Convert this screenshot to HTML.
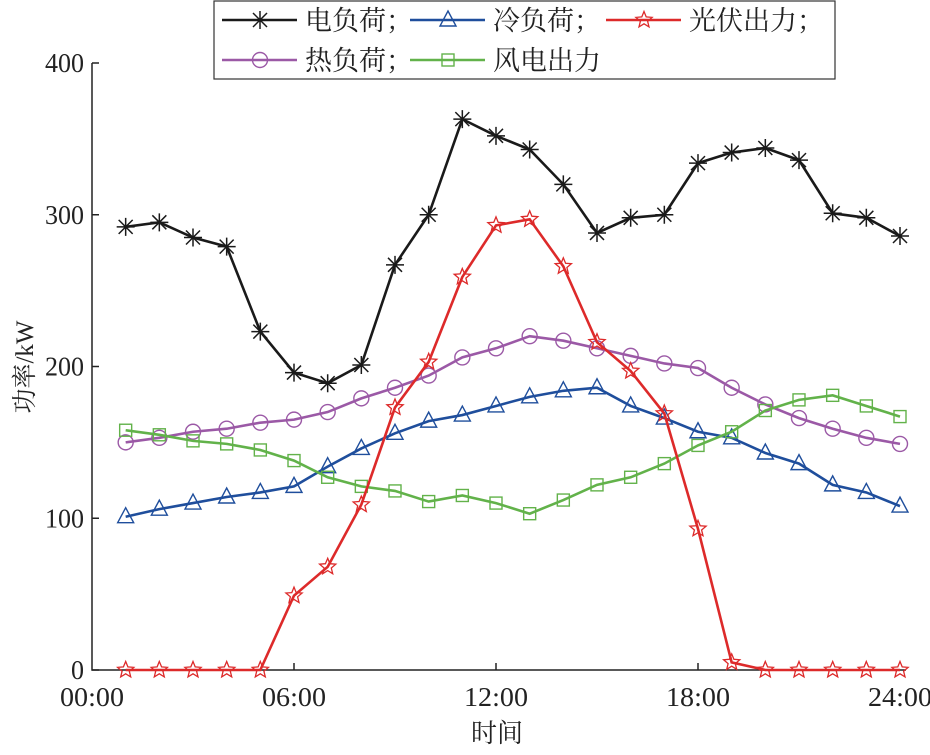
<!DOCTYPE html>
<html><head><meta charset="utf-8"><style>
body{margin:0;background:#fff}
svg text{font-family:"Liberation Serif","Noto Serif CJK SC",serif;fill:#222}
</style></head><body>
<svg width="930" height="750" viewBox="0 0 930 750" xmlns="http://www.w3.org/2000/svg">
<g id="axes"></g><g id="series"></g><g id="legend"></g>
</svg>
<script>
const hours=[1,2,3,4,5,6,7,8,9,10,11,12,13,14,15,16,17,18,19,20,21,22,23,24];
const elec=[292,295,285,279,223,196,189,201,267,300,363,352,343,320,288,298,300,334,341,344,336,301,298,286];
const cold=[101,106,110,114,117,121,134,146,156,164,168,174,180,184,186,174,166,157,153,143,136,122,117,108];
const pv=[0,0,0,0,0,49,68,109,173,203,259,293,297,266,216,197,169,93,5,0,0,0,0,0];
const heat=[150,153,157,159,163,165,170,179,186,194,206,212,220,217,212,207,202,199,186,175,166,159,153,149];
const wind=[158,155,151,149,145,138,127,121,118,111,115,110,103,112,122,127,136,148,157,171,178,181,174,167];
const xTicks=[0,6,12,18,24];
const xTickLabels=["00:00","06:00","12:00","18:00","24:00"];
const yTicks=[0,100,200,300,400];
const NS="http://www.w3.org/2000/svg";
const X0=92,X1=900,Y0=670,Y1=63;
const sx=h=>X0+(X1-X0)*h/24, sy=v=>Y0-(Y0-Y1)*v/400;
function mk(tag,attrs,parent){const e=document.createElementNS(NS,tag);for(const k in attrs)e.setAttribute(k,attrs[k]);parent.appendChild(e);return e;}
const axes=document.getElementById('axes'),ser=document.getElementById('series'),leg=document.getElementById('legend');
let a=mk('path',{d:`M${X0},${Y1}V${Y0}H${X1+6}`,fill:'none',stroke:'#222','stroke-width':1.5},axes);

yTicks.forEach(v=>{const t=mk('line',{x1:X0,x2:X0+7,y1:sy(v),y2:sy(v),stroke:'#222','stroke-width':1.5},axes);

const l=mk('text',{x:X0-8,y:sy(v)+9,'text-anchor':'end','font-size':27,textLength:String(v).length*13,lengthAdjust:'spacingAndGlyphs'},axes);l.textContent=v;
});
xTicks.forEach((h,i)=>{if(i>0&&i<4){const t=mk('line',{x1:sx(h),x2:sx(h),y1:Y0,y2:Y0-7,stroke:'#222','stroke-width':1.5},axes);
}
const l=mk('text',{x:sx(h),y:Y0+36,'text-anchor':'middle','font-size':27,textLength:64,lengthAdjust:'spacingAndGlyphs'},axes);l.textContent=xTickLabels[i];
});
let t=mk('text',{x:497,y:742,'text-anchor':'middle','font-size':26},axes);t.textContent='时间';

t=mk('text',{x:0,y:0,'text-anchor':'middle','font-size':25,transform:'translate(33,367) rotate(-90)'},axes);t.textContent='功率/kW';

function marker(type,x,y,c,g){let e;
if(type==='star'){e=mk('path',{d:`M${x-7},${y-7}L${x+7},${y+7}M${x+7},${y-7}L${x-7},${y+7}M${x-9},${y}H${x+9}M${x},${y-9}V${y+9}`,stroke:c,'stroke-width':1.5,fill:'none'},g);}
else if(type==='tri'){e=mk('path',{d:`M${x},${y-9}L${x+8},${y+6}L${x-8},${y+6}Z`,stroke:c,'stroke-width':1.4,fill:'none'},g);}
else if(type==='pent'){let p='';for(let i=0;i<10;i++){const r=i%2?3.8:8.5,an=-Math.PI/2+i*Math.PI/5;p+=(i?'L':'M')+(x+r*Math.cos(an)).toFixed(1)+','+(y+r*Math.sin(an)).toFixed(1);}e=mk('path',{d:p+'Z',stroke:c,'stroke-width':1.3,fill:'none'},g);}
else if(type==='circ'){e=mk('circle',{cx:x,cy:y,r:7.5,stroke:c,'stroke-width':1.4,fill:'none'},g);}
else {e=mk('rect',{x:x-6,y:y-6,width:12,height:12,stroke:c,'stroke-width':1.4,fill:'none'},g);}
}
const series=[["electric-load",elec,'#1a1a1a','star'],["cooling-load",cold,'#1f4e9c','tri'],["heat-load",heat,'#9b59a6','circ'],["wind-output",wind,'#62b24a','sq'],["pv-output",pv,'#dd2a2a','pent']];
series.forEach(([n,d,c,m])=>{const g=mk('g',{},ser);
const p=mk('polyline',{points:d.map((v,i)=>sx(hours[i])+','+sy(v)).join(' '),fill:'none',stroke:c,'stroke-width':2.6},g);

d.forEach((v,i)=>marker(m,sx(hours[i]),sy(v),c,g));});
const lb=mk('rect',{x:214,y:1,width:621,height:78,fill:'#fff',stroke:'#333','stroke-width':1.2},leg);

const entries=[["电负荷；",'#1a1a1a','star',222,19],["冷负荷；",'#1f4e9c','tri',410,19],["光伏出力；",'#dd2a2a','pent',606,19],["热负荷；",'#9b59a6','circ',222,59],["风电出力",'#62b24a','sq',410,59]];
entries.forEach(([lab,c,m,x,y])=>{const g=mk('g',{},leg);
mk('line',{x1:x,x2:x+75,y1:y+1,y2:y+1,stroke:c,'stroke-width':2.6},g);marker(m,x+38,y+1,c,g);
const tx=mk('text',{x:x+83,y:y+11,'font-size':27},g);tx.textContent=lab;
});
</script>
</body></html>
